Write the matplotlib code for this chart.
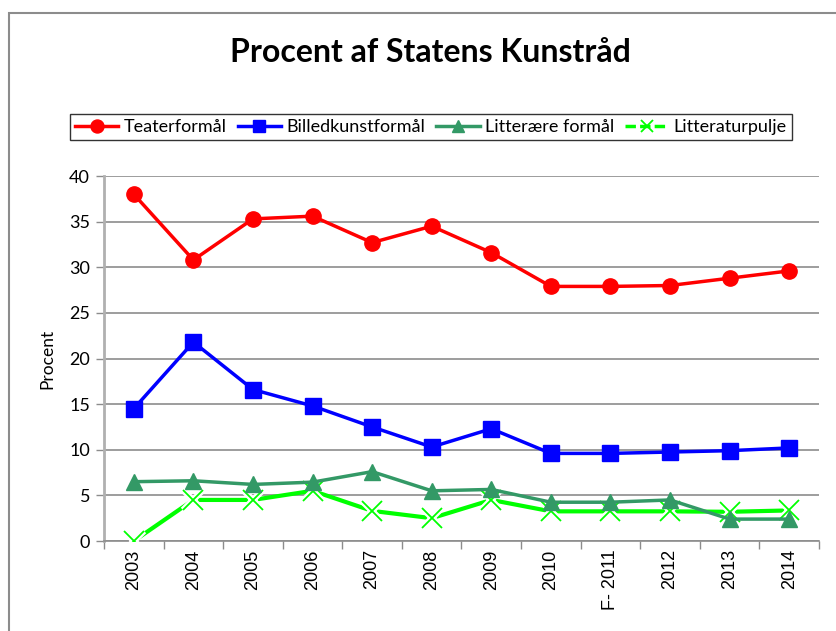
import matplotlib
matplotlib.use("Agg")
import matplotlib.pyplot as plt
from matplotlib.patches import Rectangle

years = ["2003", "2004", "2005", "2006", "2007", "2008", "2009", "2010",
         "F- 2011", "2012", "2013", "2014"]
teater = [38.0, 30.8, 35.3, 35.6, 32.7, 34.5, 31.6, 27.9, 27.9, 28.0, 28.8, 29.6]
billed = [14.5, 21.8, 16.6, 14.8, 12.5, 10.3, 12.3, 9.6, 9.6, 9.75, 9.9, 10.2]
litt_formaal = [6.5, 6.6, 6.2, 6.45, 7.6, 5.5, 5.65, 4.25, 4.25, 4.5, 2.4, 2.4]
litt_pulje = [0.0, 4.5, 4.5, 5.5, 3.3, 2.5, 4.5, 3.25, 3.25, 3.25, 3.2, 3.35]

W, H, DPI = 837, 631, 100
fig = plt.figure(figsize=(W / DPI, H / DPI), dpi=DPI)
fig.patch.set_facecolor("white")

# outer frame
fig.add_artist(Rectangle((9 / W, -0.05), 1.2, (H - 13) / H + 0.05, transform=fig.transFigure,
                         fill=False, edgecolor="#8c8c8c", linewidth=1.5))

ax = fig.add_axes([104 / W, (H - 541) / H, (819 - 104) / W, (541 - 176) / H])
x = list(range(len(years)))

ax.plot(x, teater, color="#ff0000", lw=2.5, marker="o", ms=11, label="Teaterformål", zorder=5)
ax.plot(x, billed, color="#0000ff", lw=2.5, marker="s", ms=11, label="Billedkunstformål", zorder=5)
ax.plot(x, litt_formaal, color="#339966", lw=2.5, marker="^", ms=11, label="Litterære formål", zorder=4)
ax.plot(x, litt_pulje, color="#00ff00", lw=3, zorder=3)
ax.plot(x, litt_pulje, ls="none", marker="x", ms=15, mew=4.5, color="white", zorder=3.5)
ax.plot(x, litt_pulje, ls="none", marker="x", ms=15, mew=1.3, color="#00ff00", zorder=3.6)
h_pulje, = ax.plot([], [], color="#00ff00", lw=2.5, ls=(0, (3, 1.2)), marker="x", ms=11, mew=1.3,
                   label="Litteraturpulje")

ax.set_xlim(-0.5, len(years) - 0.5)
ax.set_ylim(0, 40)
ax.set_yticks(range(0, 41, 5))
ax.set_xticks([i - 0.5 for i in range(len(years) + 1)], minor=False)
ax.set_xticklabels([])
ax.set_xticks(x, minor=True)
ax.set_xticklabels(years, minor=True, rotation=90, fontsize=13, family="Liberation Sans")
ax.tick_params(axis="x", which="minor", length=0, pad=6)
ax.tick_params(axis="x", which="major", length=6, color="#8c8c8c", width=1)
ax.tick_params(axis="y", length=6, color="#8c8c8c", width=1, labelsize=13, pad=4)
for lbl in ax.get_yticklabels():
    lbl.set_family("Lato")
ax.grid(axis="y", color="#8c8c8c", lw=1.2)
ax.set_axisbelow(True)
for s in ["top", "right"]:
    ax.spines[s].set_visible(False)
ax.spines["left"].set_color("#b0b0b0")
ax.spines["left"].set_linewidth(2)
ax.spines["bottom"].set_color("#8c8c8c")
ax.spines["bottom"].set_linewidth(1.2)
ax.set_ylabel("Procent", fontsize=12.5, family="Lato", labelpad=10)

fig.text(430 / W, 1 - 53 / H, "Procent af Statens Kunstråd", ha="center", va="center",
         fontsize=23, fontweight="bold", family="Lato")

handles, labels = ax.get_legend_handles_labels()
leg = fig.legend(handles, labels, loc="center", bbox_to_anchor=(431 / W, 1 - 127 / H), ncol=4,
                 frameon=True, fancybox=False, edgecolor="black",
                 prop={"family": "Lato", "size": 13}, handlelength=2.4, handletextpad=0.3,
                 columnspacing=0.6, borderpad=0.3, borderaxespad=0, markerscale=0.85)
leg.get_frame().set_linewidth(1.0)

fig.savefig("out.png", dpi=DPI)
